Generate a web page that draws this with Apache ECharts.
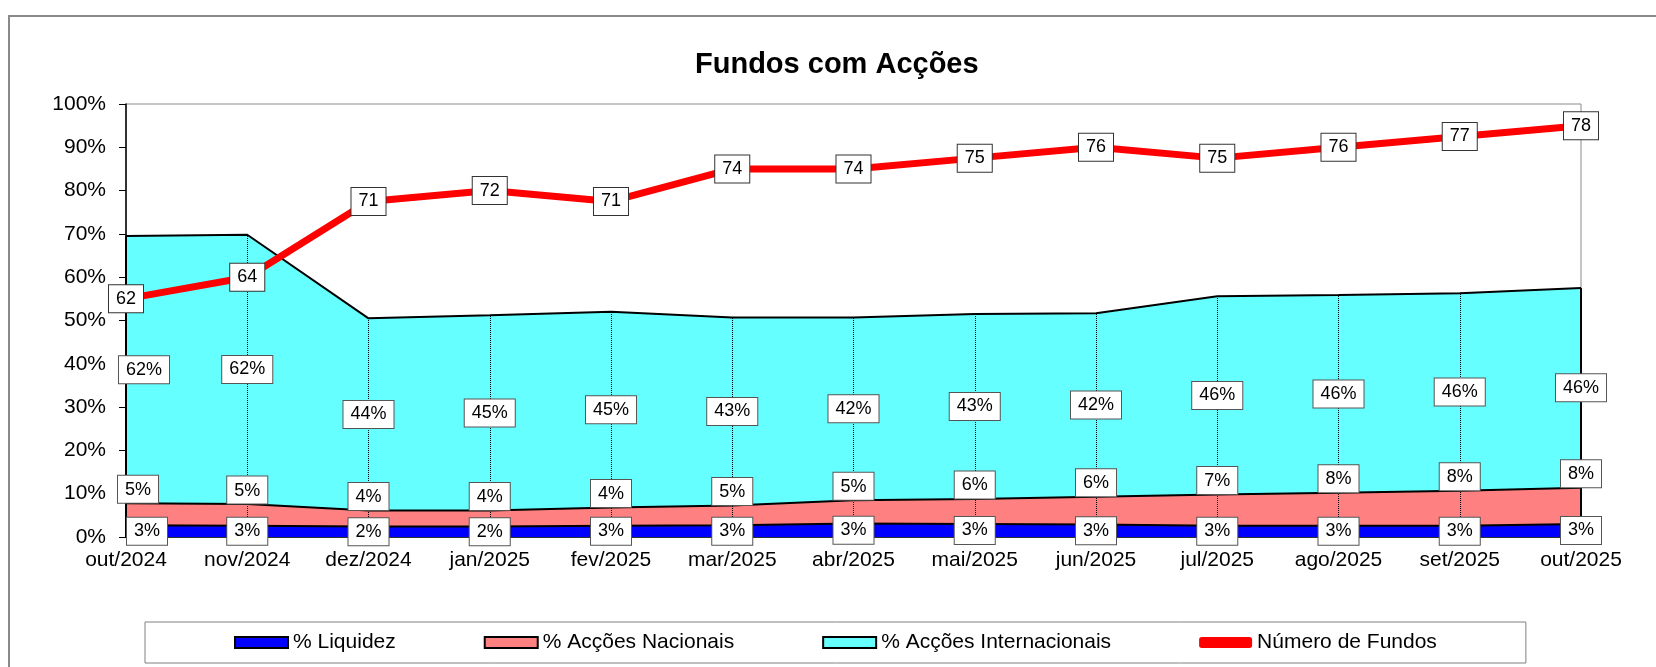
<!DOCTYPE html>
<html>
<head>
<meta charset="utf-8">
<title>Fundos com Acções</title>
<script src="https://cdn.jsdelivr.net/npm/echarts@6/dist/echarts.min.js"></script>
<style>
  html, body { margin: 0; padding: 0; background: #fff; }
  #chart { width: 1656px; height: 667px; }
</style>
</head>
<body>
<div id="chart"></div>
<script>
// valores
var categorias = ["out/2024", "nov/2024", "dez/2024", "jan/2025", "fev/2025", "mar/2025", "abr/2025",
  "mai/2025", "jun/2025", "jul/2025", "ago/2025", "set/2025", "out/2025"];
var liquidez = [2.7, 2.6, 2.4, 2.4, 2.6, 2.7, 3.1, 3.0, 2.9, 2.6, 2.6, 2.6, 3.0];
var accoesNacionais = [5.1, 5.0, 3.7, 3.7, 4.2, 4.6, 5.4, 5.8, 6.4, 7.2, 7.6, 8.1, 8.4];
var accoesInternacionais = [61.7, 62.2, 44.4, 45.1, 45.2, 43.4, 42.2, 42.7, 42.4, 45.8, 45.7, 45.6, 46.1];
var numeroFundos = [62, 64, 71, 72, 71, 74, 74, 75, 76, 75, 76, 77, 78];

var fonte = "Liberation Sans, Arial, sans-serif";

var chart = echarts.init(document.getElementById("chart"));

var caixa = {
  show: true,
  color: "#000",
  fontSize: 18,
  fontFamily: fonte,
  backgroundColor: "#fff",
  borderColor: "#555",
  borderWidth: 1,
  padding: [5, 7, 4, 7]
};

// posições dos rótulos (centro de cada faixa), calculadas a partir dos dados
function pontos(arr, primeiro) {
  return arr.map(function(v, i) {
    if (i === 0) return { value: v, label: { offset: [primeiro, 0] } };
    return v;
  });
}
var meioLiq = liquidez.map(function(v) { return v / 2; });
var topoNac = liquidez.map(function(v, i) { return v + accoesNacionais[i]; });
var meioInt = liquidez.map(function(v, i) { return v + accoesNacionais[i] + accoesInternacionais[i] / 2; });
var topoInt = liquidez.map(function(v, i) { return v + accoesNacionais[i] + accoesInternacionais[i]; });

// linhas verticais de cada mês
var linhasQueda = categorias.map(function(c, i) {
  var extremo = i === 0 || i === categorias.length - 1;
  return [
    { coord: [c, 0], lineStyle: { type: extremo ? "solid" : "dotted", width: extremo ? 2 : 1, color: "#000" } },
    { coord: [c, topoInt[i]] }
  ];
});

function rotulo(arr) {
  return function(p) { return Math.round(arr[p.dataIndex]) + "%"; };
}

var option = {
  animation: false,
  backgroundColor: "#fff",
  textStyle: { fontFamily: fonte },
  title: {
    text: "Fundos com Acções",
    left: 690,
    top: 45,
    textStyle: { fontSize: 29, fontWeight: "bold", color: "#000", fontFamily: fonte }
  },
  graphic: [
    {
      type: "polyline",
      shape: { points: [[9, 667], [9, 16], [1656, 16]] },
      style: { stroke: "#8a8a8a", lineWidth: 2, fill: null },
      silent: true
    }
  ],
  legend: {
    left: 145,
    top: 622,
    padding: [10, 89, 10, 89],
    itemGap: 88,
    itemWidth: 53,
    itemHeight: 11,
    borderColor: "#808080",
    borderWidth: 1,
    selectedMode: false,
    textStyle: { fontSize: 21, color: "#000", fontFamily: fonte },
    data: [
      { name: "% Liquidez", icon: "rect", itemStyle: { color: "#0000ff", borderColor: "#000", borderWidth: 2 } },
      { name: "% Acções Nacionais", icon: "rect", itemStyle: { color: "#ff8080", borderColor: "#000", borderWidth: 2 } },
      { name: "% Acções Internacionais", icon: "rect", itemStyle: { color: "#66ffff", borderColor: "#000", borderWidth: 2 } },
      { name: "Número de Fundos", icon: "roundRect", itemStyle: { color: "#ff0000", borderWidth: 0 } }
    ]
  },
  grid: {
    left: 126,
    right: 75,
    top: 104,
    bottom: 130,
    show: true,
    borderColor: "#8a8a8a",
    borderWidth: 1
  },
  xAxis: {
    type: "category",
    data: categorias,
    boundaryGap: false,
    axisTick: { show: false },
    axisLine: { lineStyle: { color: "#000", width: 1.5 } },
    axisLabel: { color: "#000", fontSize: 21, margin: 13, fontFamily: fonte },
    splitLine: { show: false }
  },
  yAxis: [
    {
      type: "value",
      min: 0,
      max: 100,
      interval: 10,
      axisLine: { show: true, lineStyle: { color: "#000", width: 1.5 } },
      axisTick: { show: true, length: 7, lineStyle: { color: "#000" } },
      axisLabel: { color: "#000", fontSize: 21, margin: 20, formatter: "{value}%", fontFamily: fonte },
      splitLine: { show: false }
    },
    {
      type: "value",
      min: 40,
      max: 80,
      show: false,
      splitLine: { show: false }
    }
  ],
  series: [
    {
      name: "% Liquidez",
      type: "line",
      stack: "total",
      data: liquidez,
      symbol: "none",
      itemStyle: { color: "#0000ff" },
      lineStyle: { color: "#000", width: 2 },
      areaStyle: { color: "#0000ff", opacity: 1 },
      z: 2
    },
    {
      name: "% Acções Nacionais",
      type: "line",
      stack: "total",
      data: accoesNacionais,
      symbol: "none",
      itemStyle: { color: "#ff8080" },
      lineStyle: { color: "#000", width: 2 },
      areaStyle: { color: "#ff8080", opacity: 1 },
      z: 2
    },
    {
      name: "% Acções Internacionais",
      type: "line",
      stack: "total",
      data: accoesInternacionais,
      symbol: "none",
      itemStyle: { color: "#66ffff" },
      lineStyle: { color: "#000", width: 2 },
      areaStyle: { color: "#66ffff", opacity: 1 },
      markLine: {
        silent: true,
        symbol: ["none", "none"],
        label: { show: false },
        data: linhasQueda
      },
      z: 2
    },
    {
      name: "Número de Fundos",
      type: "line",
      yAxisIndex: 1,
      data: numeroFundos,
      showSymbol: true,
      symbol: "circle",
      symbolSize: 1,
      itemStyle: { color: "#ff0000" },
      lineStyle: { color: "#ff0000", width: 7 },
      label: Object.assign({}, caixa, { position: "inside", borderColor: "#333" }),
      z: 6
    },
    // rótulos das faixas
    {
      type: "scatter",
      data: pontos(meioLiq, 21),
      symbolSize: 1,
      itemStyle: { color: "transparent", opacity: 1 },
      label: Object.assign({}, caixa, { position: "inside", formatter: rotulo(liquidez) }),
      z: 10
    },
    {
      type: "scatter",
      data: pontos(topoNac, 12),
      symbolSize: 1,
      itemStyle: { color: "transparent", opacity: 1 },
      label: Object.assign({}, caixa, { position: "top", distance: 0, formatter: rotulo(accoesNacionais) }),
      z: 10
    },
    {
      type: "scatter",
      data: pontos(meioInt, 18),
      symbolSize: 1,
      itemStyle: { color: "transparent", opacity: 1 },
      label: Object.assign({}, caixa, { position: "inside", formatter: rotulo(accoesInternacionais) }),
      z: 10
    }
  ]
};

chart.setOption(option);
</script>
</body>
</html>
